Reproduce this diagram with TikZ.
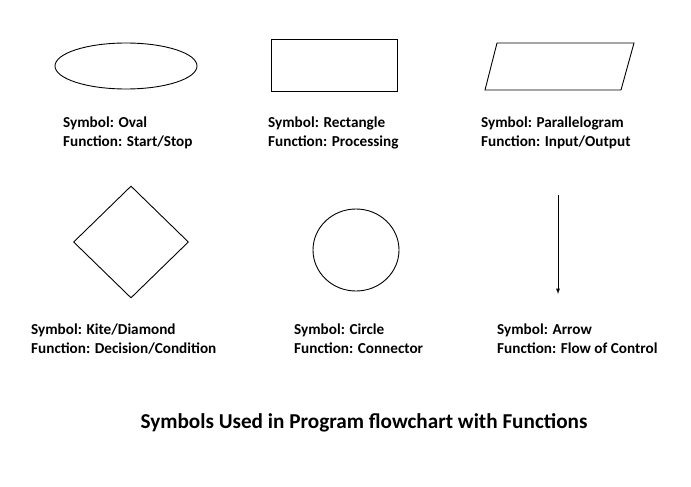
\documentclass[tikz,border=0pt]{standalone}
\usepackage{fontspec}
\setmainfont{Carlito}
\usetikzlibrary{positioning,shapes.geometric,arrows}
\tikzstyle{symbolbox}=[draw, line width=0.9pt, inner sep=0pt]
\tikzstyle{caption}=[anchor=north west, align=left, inner sep=0pt, font=\fontsize{15.2}{19}\selectfont\bfseries]

\begin{document}
\begin{tikzpicture}[x=1pt, y=-1pt]
            \useasboundingbox (0,0) rectangle (691,487);

            \node[symbolbox, ellipse, minimum width=142pt, minimum height=46pt] (oval) at (126,66) {};
            \node[symbolbox, rectangle, minimum width=126pt, minimum height=52pt] (rect) at (334,65) {};
            \draw[line width=0.9pt] (497,43) coordinate (p1) -- (634,43) coordinate (p2)
                -- (621,90) coordinate (p3) -- (485,90) coordinate (p4) -- cycle;
            \node[symbolbox, diamond, minimum width=115pt, minimum height=112pt] (kite) at (131,242) {};
            \node[symbolbox, ellipse, minimum width=86pt, minimum height=82pt] (circ) at (356,250) {};
            \coordinate (a1) at (558,195);
            \coordinate (a2) at (558,294);
            \draw[-latex, line width=0.9pt] (a1) -- (a2);

            \node[caption] (t1) at (63,117) {Symbol: Oval\\Function: Start/Stop};
            \node[caption] (t2) at (268,117) {Symbol: Rectangle\\Function: Processing};
            \node[caption] (t3) at (481,117) {Symbol: Parallelogram\\Function: Input/Output};
            \node[caption] (t4) at (31,324) {Symbol: Kite/Diamond\\Function: Decision/Condition};
            \node[caption] (t5) at (294,324) {Symbol: Circle\\Function: Connector};
            \node[caption] (t6) at (497,324) {Symbol: Arrow\\Function: Flow of Control};

            \node[font=\fontsize{21.2}{25}\selectfont\bfseries] (title) at (364,423) {Symbols Used in Program flowchart with Functions};
        \end{tikzpicture}
\end{document}
